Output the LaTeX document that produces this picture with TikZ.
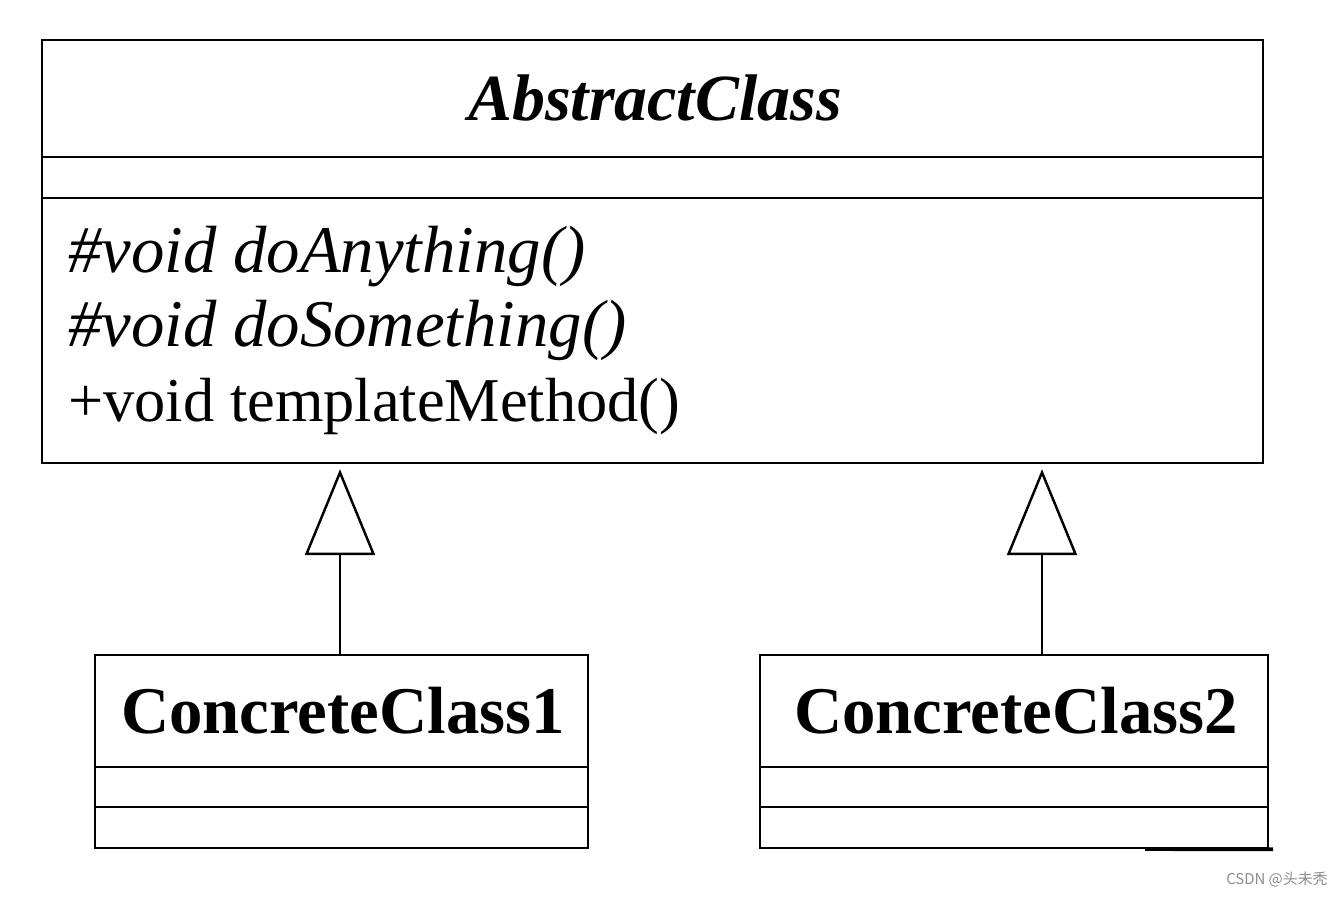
\documentclass[tikz,border=0pt]{standalone}
\usepackage{fontspec}
\setmainfont{Liberation Serif}
\newfontfamily\cjkfont{Noto Sans CJK SC}
\usetikzlibrary{positioning, arrows.meta}
\tikzset{
    class box/.style = {draw, line width=1.4pt, inner sep=0pt},
    part line/.style = {draw, line width=1.4pt},
    inherit/.style = {draw, line width=1.4pt, -{Triangle[open, length=1.72cm, width=1.4cm]}, shorten >=0.1cm},
    method/.style = {anchor=base west, inner sep=0pt, font=\fontsize{35.5}{43}\selectfont},
}

\begin{document}
\begin{tikzpicture}[x=0.02cm, y=-0.02cm]
    \useasboundingbox (0,0) rectangle (1344,897);
    \fill[white] (0,0) rectangle (1344,897);

    \node (abs) [class box, minimum width=24.42cm, minimum height=8.46cm] at (652.5,251.5) {};
    \node (cc1) [class box, minimum width=9.86cm, minimum height=3.86cm] at (341.5,751.5) {};
    \node (cc2) [class box, minimum width=10.16cm, minimum height=3.86cm] at (1014,751.5) {};

    % compartments
    \draw[part line] (abs.west |- 0,157) -- (abs.east |- 0,157);
    \draw[part line] (abs.west |- 0,198) -- (abs.east |- 0,198);
    \draw[part line] (cc1.west |- 0,767) -- (cc1.east |- 0,767);
    \draw[part line] (cc1.west |- 0,807) -- (cc1.east |- 0,807);
    \draw[part line] (cc2.west |- 0,767) -- (cc2.east |- 0,767);
    \draw[part line] (cc2.west |- 0,807) -- (cc2.east |- 0,807);

    \node (abstitle) [anchor=base, inner sep=0pt] at (655,120) {\fontsize{37.5}{44}\selectfont\bfseries\itshape AbstractClass};
    \node (m1) [method] at (68,272) {\fontsize{38}{45}\selectfont\itshape \#void doAnything()};
    \node (m2) [method] at (68,346) {\fontsize{38}{45}\selectfont\itshape \#void doSomething()};
    \node (m3) [method] at (68,421) {+void templateMethod()};

    \node (cc1name) [anchor=base, inner sep=0pt] at (343,733) {\fontsize{38}{45}\selectfont\bfseries ConcreteClass1};
    \node (cc2name) [anchor=base, inner sep=0pt] at (1016,733) {\fontsize{38}{45}\selectfont\bfseries ConcreteClass2};

    \draw[inherit] (cc1.north -| 340,0) -- (abs.south -| 340,0);
    \draw[inherit] (cc2.north -| 1042,0) -- (abs.south -| 1042,0);

    \draw[line width=2.2pt] (1145,849) -- ([xshift=0.08cm]cc2.south east);
    \node (mark) [anchor=east, inner sep=0pt, text=black!45] at (1328,880) {\cjkfont\fontsize{8.5}{10}\selectfont CSDN @头未秃};
\end{tikzpicture}
\end{document}
